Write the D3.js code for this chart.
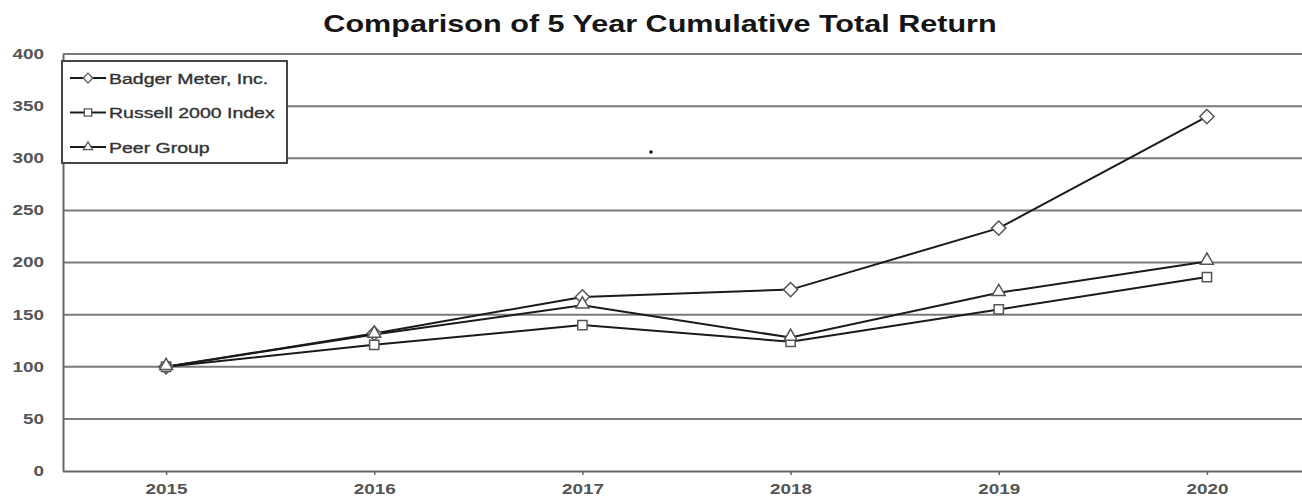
<!DOCTYPE html>
<html><head><meta charset="utf-8">
<script src="https://cdn.jsdelivr.net/npm/d3@7"></script>
<style>body{margin:0;background:#fff}svg{display:block}</style>
</head><body><svg id="c" width="1302" height="496"></svg>
<script>
const years = ["2015","2016","2017","2018","2019","2020"];
const badger = [100, 132, 167, 174, 233, 340];
const russell = [100, 121, 140, 124, 155, 186];
const peer = [100, 131, 159, 128, 171, 201];
const yTicks = [0, 50, 100, 150, 200, 250, 300, 350, 400];
const seriesNames = ["Badger Meter, Inc.", "Russell 2000 Index", "Peer Group"];
const seriesShapes = ["diamond", "square", "triangle"];
const seriesValues = [badger, russell, peer];
const chartTitle = "Comparison of 5 Year Cumulative Total Return";

(function () {
const svg = d3.select("#c");
const FONT = "Liberation Sans, Arial, sans-serif";
const SX = 1.33; // horizontal stretch of the reference's text
const W = 1302, plotLeft = 63, plotTop = 54, plotBottom = 471;
const x = d3.scalePoint().domain(years).range([62, 1311]).padding(0.5);
const y = d3.scaleLinear().domain([0, 400]).range([plotBottom, plotTop]);

svg.append("text").attr("transform", `translate(660,32) scale(${SX},1)`)
  .attr("text-anchor", "middle")
  .attr("font-family", FONT).attr("font-weight", "bold")
  .attr("font-size", 23).attr("fill", "#151515").text(chartTitle);

// gridlines
svg.append("g").selectAll("line").data(yTicks.filter(d => d > 0)).join("line")
  .attr("x1", plotLeft).attr("x2", W).attr("y1", d => y(d)).attr("y2", d => y(d))
  .attr("stroke", "#7a7a7a").attr("stroke-width", 2);

// y axis
const ya = svg.append("g").attr("transform", `translate(${plotLeft},0)`)
  .call(d3.axisLeft(y).tickValues(yTicks).tickSize(0));
ya.select(".domain").attr("stroke", "#666").attr("stroke-width", 2);
ya.selectAll("text").attr("x", -19 / 1.35).attr("transform", "scale(1.35,1)")
  .attr("font-family", FONT).attr("font-weight", "bold")
  .attr("font-size", 14).attr("fill", "#555");

// x axis
const xa = svg.append("g").attr("transform", `translate(0,${plotBottom})`)
  .call(d3.axisBottom(x).tickSize(4).tickPadding(9).tickSizeOuter(0));
xa.select(".domain").attr("d", `M${plotLeft},0.5H${W}`).attr("stroke", "#666").attr("stroke-width", 2);
xa.selectAll(".tick line").attr("stroke", "#666").attr("stroke-width", 1.5);
xa.selectAll("text").attr("transform", "scale(1.35,1)")
  .attr("font-family", FONT).attr("font-weight", "bold")
  .attr("font-size", 14).attr("fill", "#555");

const symType = {diamond: d3.symbolDiamond2, square: d3.symbolSquare2, triangle: d3.symbolTriangle2};
const symSize = {diamond: 130, square: 110, triangle: 120};
const line = d3.line().x((d, i) => x(years[i])).y(d => y(d));

seriesValues.forEach((vals) => {
  svg.append("path").datum(vals).attr("d", line).attr("fill", "none")
    .attr("stroke", "#1a1a1a").attr("stroke-width", 2);
});
seriesValues.forEach((vals, k) => {
  const sh = seriesShapes[k];
  svg.append("g").selectAll("path").data(vals).join("path")
    .attr("transform", (d, i) => `translate(${x(years[i])},${y(d) + (sh === "triangle" ? -1 : 0)})`)
    .attr("d", d3.symbol(symType[sh], symSize[sh]))
    .attr("fill", "#fff").attr("stroke", "#555").attr("stroke-width", 1.5);
});

// legend
const lg = svg.append("g");
lg.append("rect").attr("x", 62).attr("y", 61).attr("width", 225).attr("height", 102)
  .attr("fill", "#fff").attr("stroke", "#444").attr("stroke-width", 2);
seriesNames.forEach((name, k) => {
  const yy = 78 + k * 34.5;
  const sh = seriesShapes[k];
  lg.append("line").attr("x1", 70).attr("x2", 106).attr("y1", yy).attr("y2", yy)
    .attr("stroke", "#1a1a1a").attr("stroke-width", 2);
  lg.append("path").attr("transform", `translate(88,${yy})`)
    .attr("d", d3.symbol(symType[sh], sh === "square" ? 70 : 60))
    .attr("fill", "#fff").attr("stroke", "#555").attr("stroke-width", 1.3);
  lg.append("text").attr("transform", `translate(109,${yy + 5.5}) scale(1.3,1)`)
    .attr("font-family", FONT).attr("font-size", 15)
    .attr("fill", "#333").attr("stroke", "#333").attr("stroke-width", 0.35).text(name);
});

svg.append("circle").attr("cx", 651).attr("cy", 152).attr("r", 1.8).attr("fill", "#111");
})();
</script></body></html>
